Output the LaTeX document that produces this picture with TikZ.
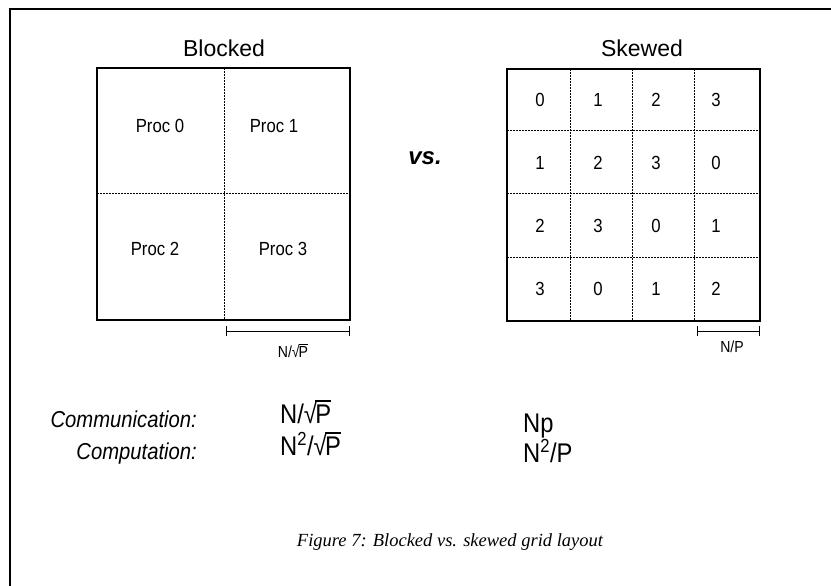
\documentclass[tikz,border=0pt]{standalone}
\usepackage{fontspec}
\setmainfont{Liberation Serif}
\newfontfamily\hv{Liberation Sans}
\newfontfamily\hvn[FakeStretch=0.88]{Liberation Sans}
\newcommand\myroot[1]{\setbox0\hbox{#1}√\kern-0.06em\rlap{\rule[0.78em]{\wd0}{0.06em}}\box0}
\begin{document}
\begin{tikzpicture}[x=1pt,y=-1pt,
  frame/.style={line width=1.6pt},
  box/.style={line width=2pt},
  grid/.style={line width=1pt,dash pattern=on 1.6pt off 1.4pt},
  title/.style={font=\hv\fontsize{23}{25}\selectfont,inner sep=0pt},
  cell/.style={font=\hvn\fontsize{19}{21}\selectfont,inner sep=0pt},
  small/.style={font=\hvn\fontsize{16}{18}\selectfont,inner sep=0pt},
  lab/.style={font=\hvn\itshape\fontsize{23}{25}\selectfont,inner sep=0pt,anchor=base east},
  big/.style={font=\hvn\fontsize{27}{29}\selectfont,inner sep=0pt,anchor=base west},
]
\useasboundingbox (0,0) rectangle (831,586);
% frame
\draw[frame] (10,586) -- (10,9) -- (831,9);

% Blocked grid
\draw[grid] (224,68) -- (224,320);
\draw[grid] (97,193) -- (350,193);
\draw[box] (97,68) rectangle (350,320);
\node[title] (tb) at (224,48) {Blocked};
\node[cell] (p0) at (160,126) {Proc 0};
\node[cell] (p1) at (274,126) {Proc 1};
\node[cell] (p2) at (155,249) {Proc 2};
\node[cell] (p3) at (283,249) {Proc 3};
\coordinate (b1) at (226,331);
\coordinate (b2) at (349,331);
\draw[line width=1pt] (b1) -- (b2);
\draw[line width=1pt] (226,326) -- (226,336) (349,326) -- (349,336);
\node[small] (bl) at (293,351) {N/\myroot{P}};

% vs
\node[font=\hv\bfseries\itshape\fontsize{24}{26}\selectfont,inner sep=0pt] (vs) at (425,158) {vs.};

% Skewed grid
\foreach \x in {570,632,694} \draw[grid] (\x,69) -- (\x,321);
\foreach \y in {131,193,257} \draw[grid] (507,\y) -- (760,\y);
\draw[box] (507,69) rectangle (760,321);
\node[title] (ts) at (642,48) {Skewed};
\foreach \r/\y/\a/\b/\c/\d in {0/100/0/1/2/3,1/163/1/2/3/0,2/226/2/3/0/1,3/289/3/0/1/2}{
  \node[cell] (s\r a) at (540,\y) {\a};
  \node[cell] (s\r b) at (598,\y) {\b};
  \node[cell] (s\r c) at (656,\y) {\c};
  \node[cell] (s\r d) at (716,\y) {\d};
}
\coordinate (c1) at (697,331);
\coordinate (c2) at (759,331);
\draw[line width=1pt] (c1) -- (c2);
\draw[line width=1pt] (697,326) -- (697,336) (759,326) -- (759,336);
\node[small] (sl) at (732,347) {N/P};

% bottom
\node[lab] (comm) at (197,427) {Communication:};
\node[lab] (comp) at (197,459) {Computation:};
\node[big] (f1) at (280,423) {N/\myroot{P}};
\node[big] (f2) at (280,455) {N\textsuperscript{2}/\myroot{P}};
\node[big] (f3) at (523,432) {Np};
\node[big] (f4) at (523,462) {N\textsuperscript{2}/P};

\node[font=\itshape\fontsize{18.5}{20}\selectfont,inner sep=0pt,anchor=base] (cap) at (450,546) {Figure 7: Blocked vs. skewed grid layout};
\end{tikzpicture}
\end{document}
